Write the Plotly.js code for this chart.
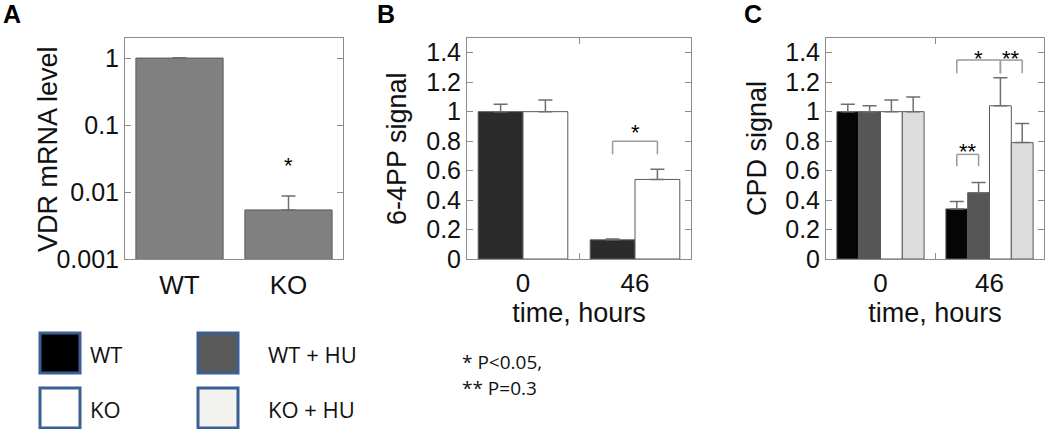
<!DOCTYPE html>
<html>
<head>
<meta charset="utf-8">
<script src="https://cdn.plot.ly/plotly-3.0.1.min.js"></script>
<style>
  body { margin: 0; background: #fff; }
  #chart { width: 1050px; height: 429px; }
</style>
</head>
<body>
<div id="chart"></div>
<script>
// ---- data ----
// A: VDR mRNA level (log scale)
const genotypes = ['WT', 'KO'];
const vdrLevel = [1.0, 0.0054];
const vdrErr = [0.01, 0.0033];

// B and C share the time axis
const timePoints = ['0', '46'];

// B: 6-4PP signal
const pp_WT = [1.0, 0.13];
const pp_WT_err = [0.05, 0.006];
const pp_KO = [1.0, 0.54];
const pp_KO_err = [0.08, 0.07];

// C: CPD signal
const cpd_WT = [1.0, 0.34];
const cpd_WT_err = [0.05, 0.05];
const cpd_WTHU = [1.0, 0.45];
const cpd_WTHU_err = [0.04, 0.07];
const cpd_KO = [1.0, 1.04];
const cpd_KO_err = [0.08, 0.19];
const cpd_KOHU = [1.0, 0.79];
const cpd_KOHU_err = [0.10, 0.13];

const linearTicks = [0, 0.2, 0.4, 0.6, 0.8, 1, 1.2, 1.4];
const linearTickText = ['0', '0.2', '0.4', '0.6', '0.8', '1', '1.2', '1.4'];
const logTicks = [0.001, 0.01, 0.1, 1];
const logTickText = ['0.001', '0.01', '0.1', '1'];

// significance brackets: time index, bars joined (index in group), group size, top, leg end, star height
const brackets = [
  {ax: 2, cat: 1, from: 0, to: 1, n: 2, top: 0.80, leg: 0.71, starY: 0.90, label: '*'},
  {ax: 3, cat: 1, from: 0, to: 1, n: 4, top: 0.71, leg: 0.63, starY: 0.77, label: '**'},
  {ax: 3, cat: 1, from: 0, to: 2, n: 4, top: 1.35, leg: 1.26, starY: 1.40, label: '*'},
  {ax: 3, cat: 1, from: 2, to: 3, n: 4, top: 1.35, leg: 1.26, starY: 1.40, label: '**'}
];

// legend entries
const legendNames = ['WT', 'KO', 'WT + HU', 'KO + HU'];
const legendFills = ['#000000', '#ffffff', '#595959', '#f2f2ee'];
const sigNotes = ['* P<0.05,', '** P=0.3'];

// ---- styling ----
const W = 1050, H = 429;
const px = v => v / W;
const py = v => 1 - v / H;
const font = 'Liberation Sans, Arial, Helvetica, sans-serif';
const frameColor = '#8c8c8c';
const edge = '#5a5a5a';
const errColor = '#6e6e6e';
const BARGAP = 0.2;

function errY(arr) {
  return {type: 'data', array: arr, arrayminus: arr.map(() => 0), symmetric: false,
          color: errColor, thickness: 1.5, width: 7};
}

function barTrace(x, y, err, fill, xa, ya) {
  return {
    type: 'bar', x: x, y: y, xaxis: xa, yaxis: ya,
    marker: {color: fill, line: {color: edge, width: 1}},
    error_y: errY(err), showlegend: false, hoverinfo: 'skip'
  };
}

const data = [
  barTrace(genotypes, vdrLevel, vdrErr, '#808080', 'x', 'y'),
  barTrace(timePoints, pp_WT, pp_WT_err, '#2b2b2b', 'x2', 'y2'),
  barTrace(timePoints, pp_KO, pp_KO_err, '#ffffff', 'x2', 'y2'),
  barTrace(timePoints, cpd_WT, cpd_WT_err, '#050505', 'x3', 'y3'),
  barTrace(timePoints, cpd_WTHU, cpd_WTHU_err, '#565656', 'x3', 'y3'),
  barTrace(timePoints, cpd_KO, cpd_KO_err, '#ffffff', 'x3', 'y3'),
  barTrace(timePoints, cpd_KOHU, cpd_KOHU_err, '#dcdddb', 'x3', 'y3')
];

function frame(extra) {
  return Object.assign({
    showline: true, linecolor: frameColor, linewidth: 1, mirror: 'allticks',
    ticks: 'inside', ticklen: 6, tickcolor: frameColor, tickwidth: 1,
    showgrid: false, zeroline: false, fixedrange: true,
    tickfont: {family: font, size: 25, color: '#111'}
  }, extra);
}

const titleFont = {family: font, size: 27, color: '#111'};
const xTickFont = {family: font, size: 26, color: '#111'};
const yDom = [py(259), py(38)];

const layout = {
  width: W, height: H,
  margin: {l: 0, r: 0, t: 0, b: 0},
  paper_bgcolor: '#fff', plot_bgcolor: '#fff',
  barmode: 'group', bargap: BARGAP, bargroupgap: 0,
  showlegend: false,
  xaxis: frame({domain: [px(125), px(343)], anchor: 'y', type: 'category', ticks: '',
    tickfont: xTickFont, ticklabelstandoff: 3}),
  yaxis: frame({domain: yDom, anchor: 'x', type: 'log', range: [-3, 0.3],
    tickvals: logTicks, ticktext: logTickText}),
  xaxis2: frame({domain: [px(467), px(691)], anchor: 'y2', type: 'category', tickson: 'boundaries',
    range: [-0.5, 1.5], tickfont: xTickFont, ticklabelstandoff: 1,
    title: {text: 'time, hours', font: titleFont, standoff: 0}}),
  yaxis2: frame({domain: yDom, anchor: 'x2', range: [0, 1.5],
    tickvals: linearTicks, ticktext: linearTickText}),
  xaxis3: frame({domain: [px(826), px(1044)], anchor: 'y3', type: 'category', tickson: 'boundaries',
    range: [-0.5, 1.5], tickfont: xTickFont, ticklabelstandoff: 1,
    title: {text: 'time, hours', font: titleFont, standoff: 0}}),
  yaxis3: frame({domain: yDom, anchor: 'x3', range: [0, 1.5],
    tickvals: linearTicks, ticktext: linearTickText}),
  shapes: [],
  annotations: []
};

// y-axis titles placed next to each panel
[['VDR mRNA level', 48], ['6-4PP signal', 397], ['CPD signal', 757]].forEach(([t, x]) => {
  layout.annotations.push({text: t, xref: 'paper', yref: 'paper', x: px(x), y: py(149),
    xanchor: 'center', yanchor: 'middle', textangle: -90, showarrow: false, font: titleFont});
});

// panel letters
[['A', 1], ['B', 375], ['C', 742]].forEach(([t, x]) => {
  layout.annotations.push({text: '<b>' + t + '</b>', xref: 'paper', yref: 'paper',
    x: px(x), y: py(14), xanchor: 'left', yanchor: 'middle', showarrow: false,
    font: {family: font, size: 25, color: '#000'}});
});

// star over KO in panel A (log axis: position in decades)
layout.annotations.push({text: '*', xref: 'x', yref: 'y', x: 1,
  y: Math.log10(vdrLevel[1] + vdrErr[1]) + 0.55, showarrow: false, yshift: -6,
  font: {family: font, size: 22, color: '#000'}});

// brackets from bar centres within each group
function barCenter(cat, k, n) {
  const w = (1 - BARGAP) / n;
  return cat - (1 - BARGAP) / 2 + w * (k + 0.5);
}
const bracketColor = '#9a9a9a';
brackets.forEach(b => {
  const xa = 'x' + b.ax, ya = 'y' + b.ax;
  const x0 = barCenter(b.cat, b.from, b.n), x1 = barCenter(b.cat, b.to, b.n);
  const ln = {color: bracketColor, width: 1.5};
  layout.shapes.push({type: 'line', xref: xa, yref: ya, x0: x0, x1: x1, y0: b.top, y1: b.top, line: ln});
  layout.shapes.push({type: 'line', xref: xa, yref: ya, x0: x0, x1: x0, y0: b.top, y1: b.leg, line: ln});
  layout.shapes.push({type: 'line', xref: xa, yref: ya, x0: x1, x1: x1, y0: b.top, y1: b.leg, line: ln});
  layout.annotations.push({text: b.label, xref: xa, yref: ya, x: (x0 + x1) / 2, y: b.starY,
    showarrow: false, yshift: -6, font: {family: font, size: 22, color: '#000'}});
});

// legend boxes (2 x 2 grid)
const legFont = {family: 'Open Sans, Noto Sans, sans-serif', size: 22, color: '#111'};
const legBoxLeft = [40, 198];
const legTextLeft = [88, 266];
legendNames.forEach((name, i) => {
  const col = Math.floor(i / 2), row = i % 2;
  const left = legBoxLeft[col], top = 333 + row * 55;
  layout.shapes.push({type: 'rect', xref: 'paper', yref: 'paper',
    x0: px(left), x1: px(left + 40), y0: py(top + 40), y1: py(top),
    fillcolor: legendFills[i], line: {color: '#3b5e93', width: 3}});
  layout.annotations.push({text: name, xref: 'paper', yref: 'paper',
    x: px(legTextLeft[col]), y: py(top + 21), xanchor: 'left', yanchor: 'middle',
    showarrow: false, font: legFont});
});

sigNotes.forEach((t, i) => {
  layout.annotations.push({text: t, xref: 'paper', yref: 'paper',
    x: px(460), y: py(362 + i * 26), xanchor: 'left', yanchor: 'middle',
    showarrow: false, font: {family: 'Open Sans, Noto Sans, sans-serif', size: 19, color: '#111'}});
});

Plotly.newPlot('chart', data, layout, {staticPlot: true, displayModeBar: false});
</script>
</body>
</html>
